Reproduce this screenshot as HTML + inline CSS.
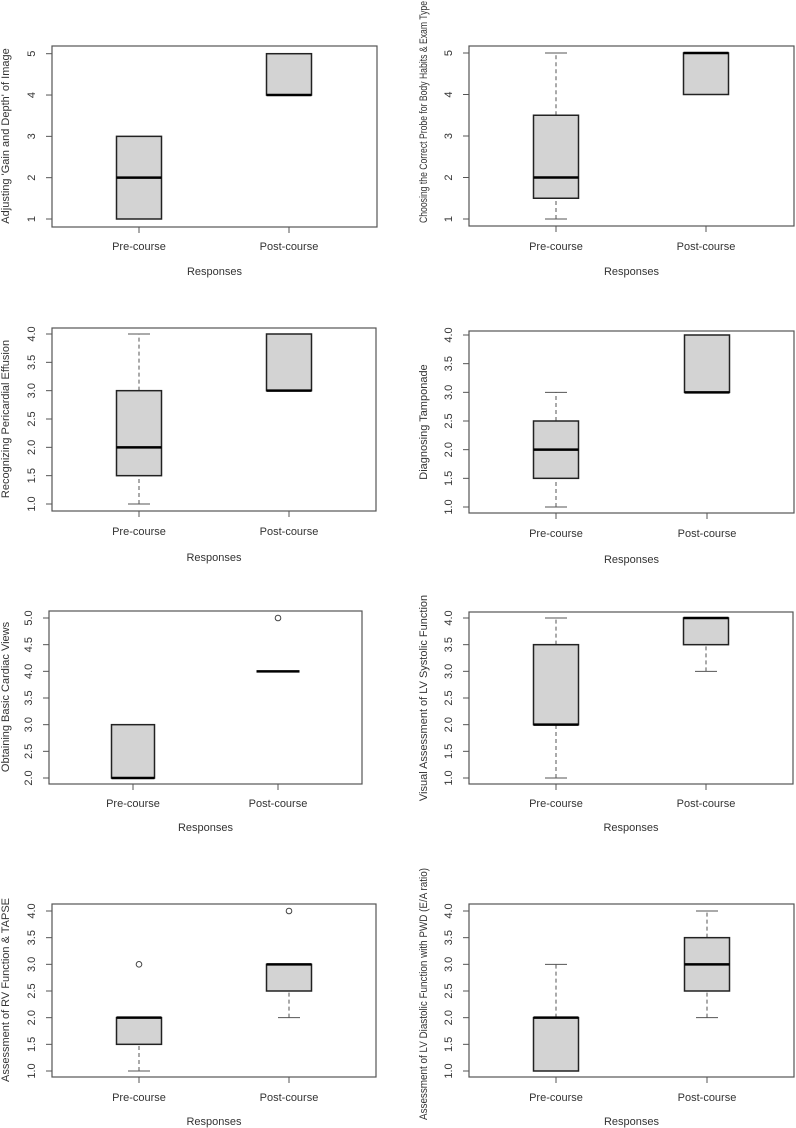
<!DOCTYPE html>
<html><head><meta charset="utf-8"><style>
html,body{margin:0;padding:0;background:#fff}
svg{display:block;font-family:"Liberation Sans",Arial,sans-serif}
</style></head><body>
<svg id="chart" width="796" height="1128" viewBox="0 0 796 1128" xmlns="http://www.w3.org/2000/svg"></svg>
<script>
// ---- data ----
const categories = ["Pre-course","Post-course"];
const titles = [
 "Adjusting 'Gain and Depth' of Image",
 "Choosing the Correct Probe for Body Habits & Exam Type",
 "Recognizing Pericardial Effusion",
 "Diagnosing Tamponade",
 "Obtaining Basic Cardiac Views",
 "Visual Assessment of LV Systolic Function",
 "Assessment of RV Function & TAPSE",
 "Assessment of LV Diastolic Function with PWD (E/A ratio)"
];
// [lower whisker, q1, median, q3, upper whisker]
const preStats = [[1,1,2,3,3],[1,1.5,2,3.5,5],[1,1.5,2,3,4],[1,1.5,2,2.5,3],[2,2,2,3,3],[1,2,2,3.5,4],[1,1.5,2,2,2],[1,1,2,2,3]];
const postStats = [[4,4,4,5,5],[4,4,5,5,5],[3,3,3,4,4],[3,3,3,4,4],[4,4,4,4,4],[3,3.5,4,4,4],[2,2.5,3,3,3],[2,2.5,3,3.5,4]];
const preOutliers = [[],[],[],[],[],[],[3],[]];
const postOutliers = [[],[],[],[],[5],[],[4],[]];
const tickLabels = [
 ["1","2","3","4","5"],["1","2","3","4","5"],
 ["1.0","1.5","2.0","2.5","3.0","3.5","4.0"],["1.0","1.5","2.0","2.5","3.0","3.5","4.0"],
 ["2.0","2.5","3.0","3.5","4.0","4.5","5.0"],["1.0","1.5","2.0","2.5","3.0","3.5","4.0"],
 ["1.0","1.5","2.0","2.5","3.0","3.5","4.0"],["1.0","1.5","2.0","2.5","3.0","3.5","4.0"]
];
// ---- layout (pixel geometry) ----
const layout = [
 {x0:52,x1:377,y0:46,y1:227,pMin:219,pMax:53.7,c:[139,289],hw:22.5,lab:250,resp:275,tx:9,tl:35,tc:136,tlen:0},
 {x0:469,x1:794,y0:46,y1:226,pMin:219,pMax:53,c:[556,706],hw:22.5,lab:250,resp:275,tx:427,tl:452,tc:112,tlen:222},
 {x0:52,x1:376,y0:328,y1:511,pMin:504,pMax:334,c:[139,289],hw:22.5,lab:535,resp:561,tx:9,tl:35,tc:419,tlen:0},
 {x0:469,x1:794,y0:331,y1:513,pMin:507,pMax:335,c:[556,707],hw:22.5,lab:537,resp:563,tx:427,tl:452,tc:422,tlen:0},
 {x0:49,x1:362,y0:611,y1:784,pMin:778,pMax:618,c:[133,278],hw:21.5,lab:807,resp:831,tx:9,tl:32,tc:697,tlen:0},
 {x0:469,x1:793,y0:612,y1:784,pMin:778,pMax:618,c:[556,706],hw:22.5,lab:807,resp:831,tx:427,tl:452,tc:698,tlen:0},
 {x0:52,x1:376,y0:904,y1:1077,pMin:1071,pMax:911,c:[139,289],hw:22.5,lab:1101,resp:1125,tx:9,tl:35,tc:990,tlen:0},
 {x0:469,x1:794,y0:904,y1:1077,pMin:1071,pMax:911,c:[556,707],hw:22.5,lab:1101,resp:1125,tx:427,tl:452,tc:994,tlen:252}
];
const svg = document.getElementById('chart');
const NS = "http://www.w3.org/2000/svg";
function mk(tag, attrs, parent){ const e=document.createElementNS(NS,tag); for(const k in attrs) e.setAttribute(k,attrs[k]); parent.appendChild(e); return e; }
layout.forEach((L,i)=>{
  const g = mk('g',{},svg);
  
  
  const labels = tickLabels[i];
  const vMin = parseFloat(labels[0]), vMax = parseFloat(labels[labels.length-1]);
  const y = v => L.pMin + (v - vMin)/(vMax - vMin)*(L.pMax - L.pMin);
  const frame = mk('rect',{x:L.x0,y:L.y0,width:L.x1-L.x0,height:L.y1-L.y0,fill:'none',stroke:'#555','stroke-width':1.2},g);
  
  
  labels.forEach(t=>{
    const yy = y(parseFloat(t));
    const tk = mk('line',{x1:L.x0-6,x2:L.x0,y1:yy,y2:yy,stroke:'#555','stroke-width':1},g);
    
    
    const tx = mk('text',{x:L.tl,y:yy,'font-size':11,fill:'#333','text-anchor':'middle',transform:`rotate(-90 ${L.tl} ${yy})`},g);
    tx.textContent = t;
    
    
  });
  const ya = {x:L.tx,y:L.tc,'font-size':11,fill:'#333','text-anchor':'middle',transform:`rotate(-90 ${L.tx} ${L.tc})`};
  if (L.tlen) { ya.textLength = L.tlen; ya.lengthAdjust = 'spacingAndGlyphs'; }
  const yt = mk('text',ya,g);
  yt.textContent = titles[i];
  
  
  const rs = mk('text',{x:(L.x0+L.x1)/2,y:L.resp,'font-size':11,fill:'#333','text-anchor':'middle'},g);
  rs.textContent = 'Responses';
  
  
  [preStats[i], postStats[i]].forEach((s,j)=>{
    const cx = L.c[j];
    const xt = mk('line',{x1:cx,x2:cx,y1:L.y1,y2:L.y1+6,stroke:'#555','stroke-width':1},g);
    
    
    const cl = mk('text',{x:cx,y:L.lab,'font-size':11,fill:'#333','text-anchor':'middle'},g);
    cl.textContent = categories[j];
    
    
    const wstyle = {stroke:'#555','stroke-width':1,'stroke-dasharray':'4,3'};
    if (s[0] < s[1]) {
      const w = mk('line',Object.assign({x1:cx,x2:cx,y1:y(s[0]),y2:y(s[1])},wstyle),g);
      
      
      const c = mk('line',{x1:cx-11,x2:cx+11,y1:y(s[0]),y2:y(s[0]),stroke:'#555','stroke-width':1},g);
      
      
    }
    if (s[4] > s[3]) {
      const w = mk('line',Object.assign({x1:cx,x2:cx,y1:y(s[3]),y2:y(s[4])},wstyle),g);
      
      
      const c = mk('line',{x1:cx-11,x2:cx+11,y1:y(s[4]),y2:y(s[4]),stroke:'#555','stroke-width':1},g);
      
      
    }
    const b = mk('rect',{x:cx-L.hw,y:y(s[3]),width:2*L.hw,height:Math.max(0,y(s[1])-y(s[3])),fill:'#d3d3d3',stroke:'#222','stroke-width':1.5},g);
    
    
    const m = mk('line',{x1:cx-L.hw,x2:cx+L.hw,y1:y(s[2]),y2:y(s[2]),stroke:'#000','stroke-width':2.5},g);
    
    
    const outs = j===0 ? preOutliers[i] : postOutliers[i];
    outs.forEach(o=>{
      const p = mk('circle',{cx:cx,cy:y(o),r:2.8,fill:'none',stroke:'#444','stroke-width':1},g);
      
      
    });
  });
});
</script>
</body></html>
